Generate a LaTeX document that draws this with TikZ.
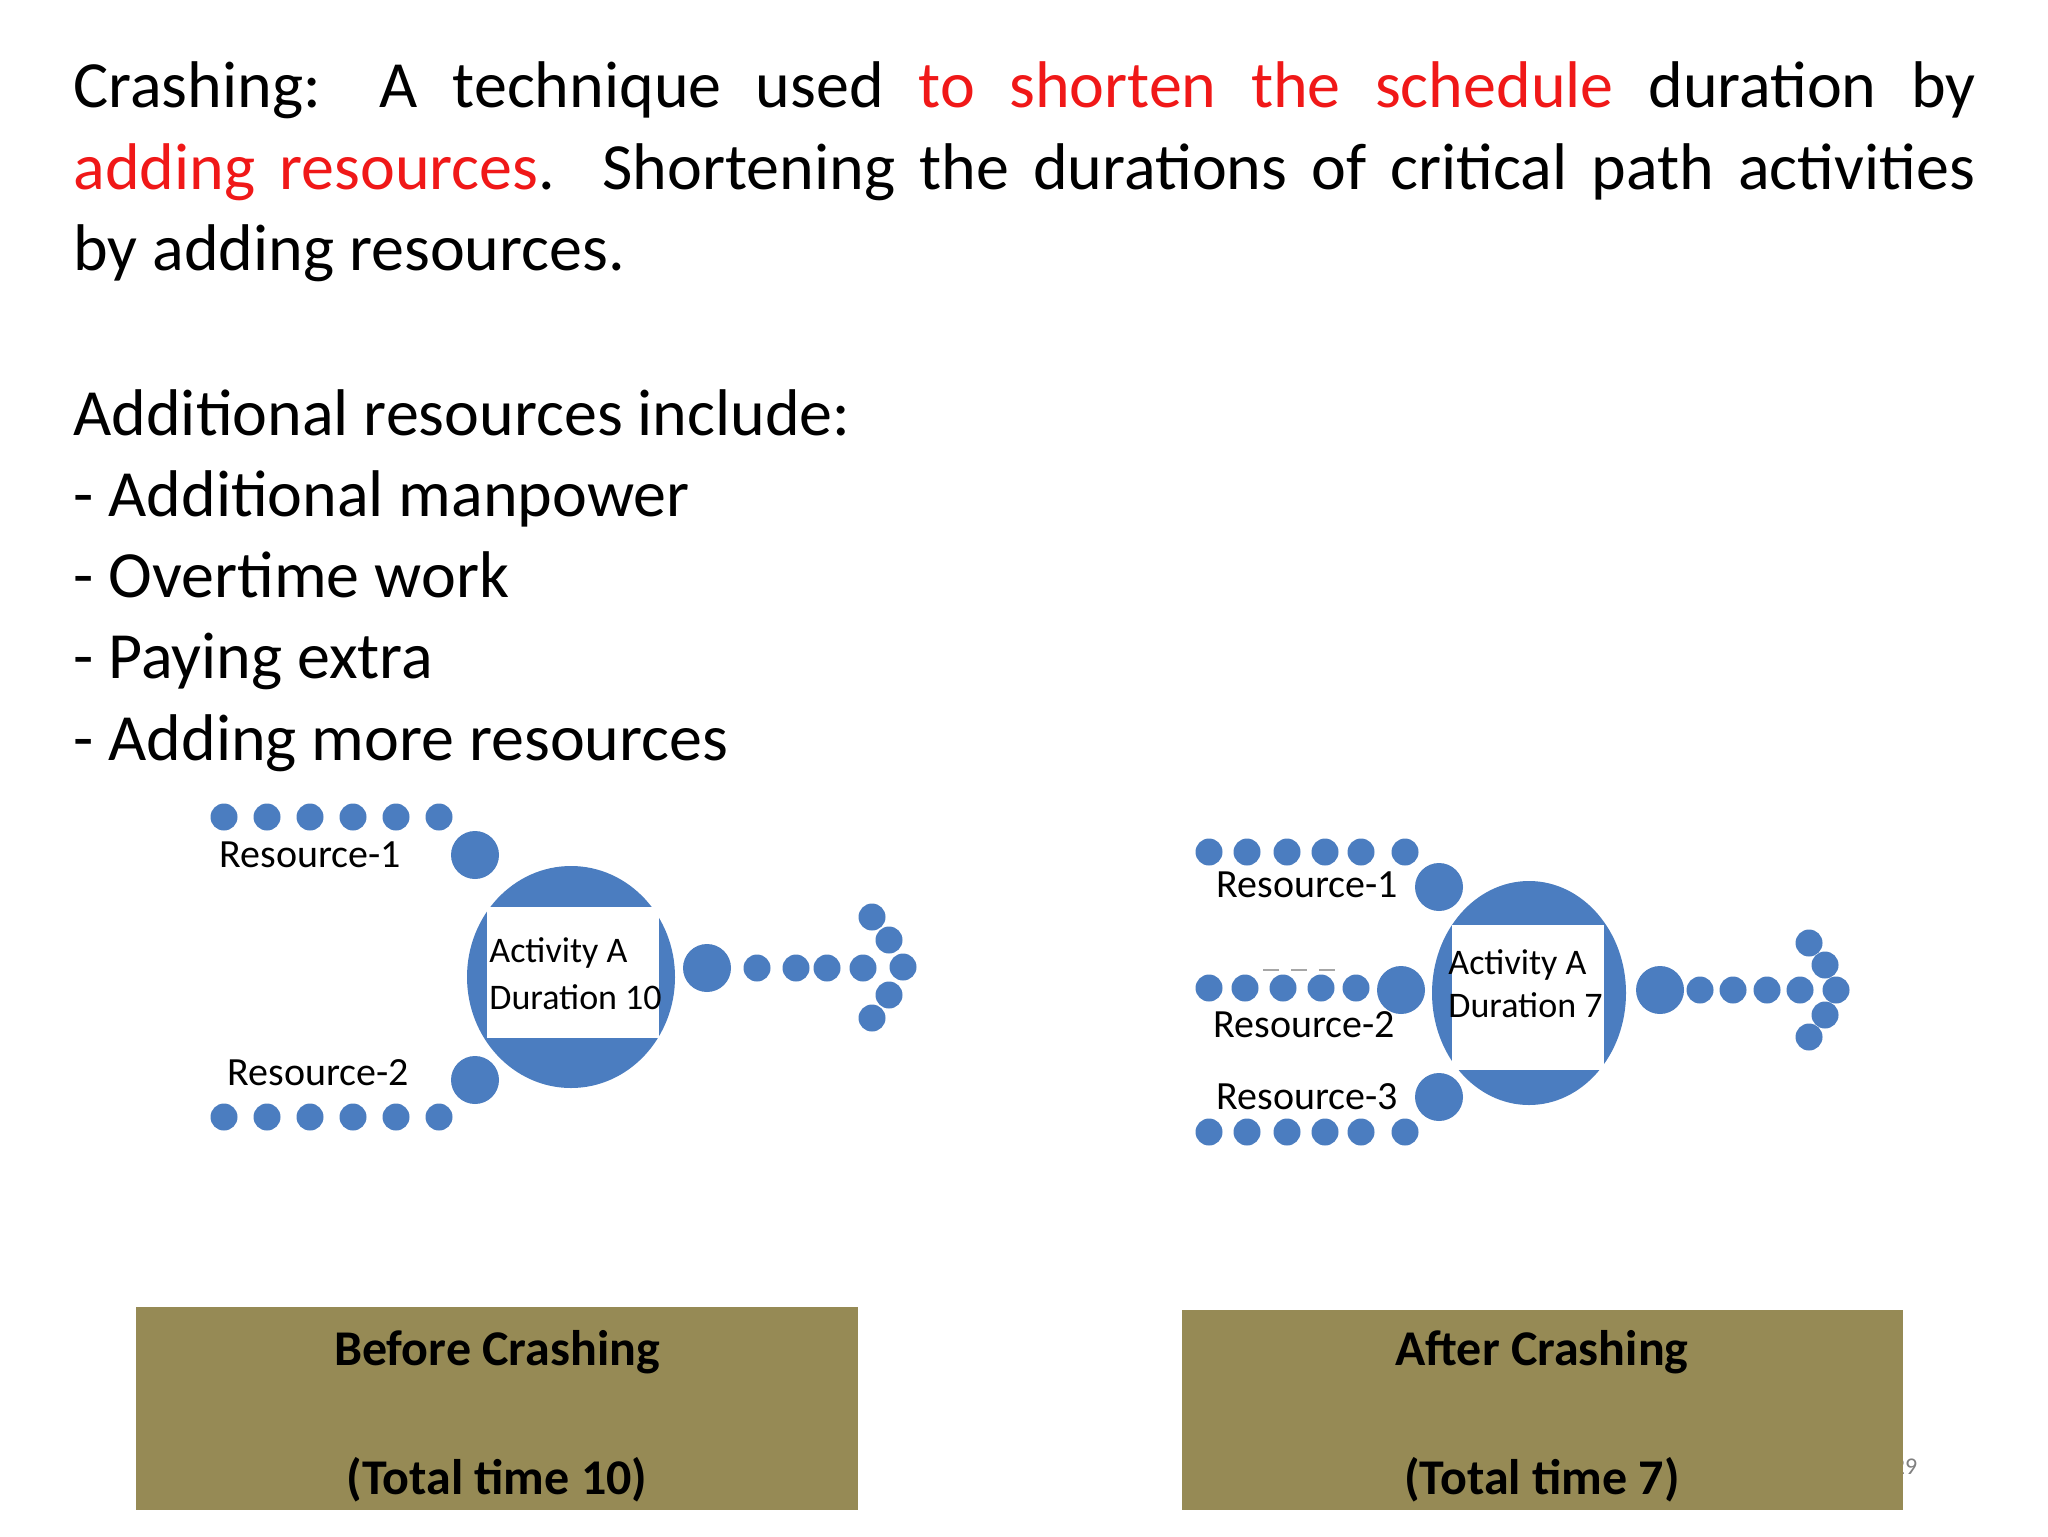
\documentclass[tikz,border=0pt]{standalone}
\usepackage{fontspec}
\usetikzlibrary{shapes.geometric}
\setmainfont{Carlito}
\definecolor{dotblue}{HTML}{4B7DC0}
\definecolor{olive}{HTML}{968A55}
\definecolor{txtred}{HTML}{F01818}
\begin{document}
\begin{tikzpicture}[x=0.5pt,y=-0.5pt,
  line/.style={anchor=base west,inner sep=0pt,font=\fontsize{33pt}{40pt}\selectfont},
  dot/.style={circle,fill=dotblue,inner sep=0pt,minimum size=13.5pt},
  bigdot/.style={circle,fill=dotblue,inner sep=0pt,minimum size=24pt},
  lbl/.style={anchor=west,inner sep=0pt,font=\fontsize{20pt}{24pt}\selectfont},
  acttxt/.style={anchor=west,inner sep=0pt,font=\fontsize{18pt}{22pt}\selectfont},
  boxtxt/.style={inner sep=0pt,font=\fontsize{25pt}{30pt}\selectfont\bfseries}]
\useasboundingbox (0,0) rectangle (2048,1536);
\fill[white] (0,0) rectangle (2048,1536);
% text
\node[line] (l1) at (73,108) {\makebox[951pt][s]{Crashing: A technique used \textcolor{txtred}{to shorten the schedule} duration by}};
\node[line] (l2) at (73,189) {\makebox[951pt][s]{\textcolor{txtred}{adding resources}. Shortening the durations of critical path activities}};
\node[line] (l3) at (73,270) {by adding resources.};
\node[line] (l4) at (73,435) {Additional resources include:};
\node[line] (l5) at (73,516) {- Additional manpower};
\node[line] (l6) at (73,597) {- Overtime work};
\node[line] (l7) at (73,678) {- Paying extra};
\node[line] (l8) at (73,760) {- Adding more resources};
% ---- left diagram
\node[ellipse,fill=dotblue,minimum width=104pt,minimum height=111pt,inner sep=0pt] (ca) at (571,977) {};
\fill[white] (487,907) rectangle (659,1038);
\node[acttxt] (ta1) at (489,953) {Activity A};
\node[acttxt] (ta2) at (489,997) {Duration 10};
\foreach \x [count=\i] in {224,267,310,353,396,439} {
  \node[dot] (lt\i) at (\x,817) {};
  \node[dot] (lb\i) at (\x,1117) {};
}
\node[bigdot] (lr1) at (475,855) {};
\node[bigdot] (lr2) at (475,1080) {};
\node[lbl] (lt) at (219,855) {Resource-1};
\node[lbl] (lb) at (227,1073) {Resource-2};
\node[bigdot] (lo) at (707,968) {};
\foreach \x [count=\i] in {757,796,827,863} \node[dot] (lo\i) at (\x,968) {};
\node[dot] (la1) at (872,917) {};
\node[dot] (la2) at (889,940) {};
\node[dot] (la3) at (903,967) {};
\node[dot] (la4) at (889,995) {};
\node[dot] (la5) at (872,1018) {};
% ---- right diagram
\node[ellipse,fill=dotblue,minimum width=97pt,minimum height=112pt,inner sep=0pt] (cb) at (1529,993) {};
\fill[white] (1452,925) rectangle (1604,1070);
\node[acttxt] (tb1) at (1448,965) {Activity A};
\node[acttxt] (tb2) at (1448,1005) {Duration 7};
\foreach \x [count=\i] in {1209,1247,1287,1325,1361,1405} {
  \node[dot] (rt\i) at (\x,852) {};
  \node[dot] (rb\i) at (\x,1132) {};
}
\foreach \x [count=\i] in {1209,1245,1283,1321,1356} \node[dot] (rm\i) at (\x,988) {};
\node[bigdot] (rr1) at (1439,887) {};
\node[bigdot] (rr2) at (1401,990) {};
\node[bigdot] (rr3) at (1439,1097) {};
\coordinate (dA) at (1263,970);
\coordinate (dB) at (1338,970);
\draw[gray!70,line width=0.8pt,dash pattern=on 8pt off 6pt] (dA) -- (dB);
\node[lbl] (rl1) at (1216,885) {Resource-1};
\node[lbl] (rl2) at (1213,1025) {Resource-2};
\node[lbl] (rl3) at (1216,1097) {Resource-3};
\node[bigdot] (ro) at (1660,990) {};
\foreach \x [count=\i] in {1700,1733,1767,1800} \node[dot] (ro\i) at (\x,990) {};
\node[dot] (ra1) at (1809,943) {};
\node[dot] (ra2) at (1825,965) {};
\node[dot] (ra3) at (1836,990) {};
\node[dot] (ra4) at (1825,1015) {};
\node[dot] (ra5) at (1809,1037) {};
% page number (partly hidden)
\node[inner sep=0pt,text=gray,font=\fontsize{12pt}{14pt}\selectfont] (pg) at (1905,1467) {29};
% boxes
\fill[olive] (136,1307) rectangle (858,1510);
\fill[olive] (1182,1310) rectangle (1903,1510);
\node[boxtxt] (b1) at (497,1352) {Before Crashing};
\node[boxtxt] (b2) at (497,1480) {(Total time 10)};
\node[boxtxt] (b3) at (1542,1352) {After Crashing};
\node[boxtxt] (b4) at (1542,1480) {(Total time 7)};
\end{tikzpicture}
\end{document}
